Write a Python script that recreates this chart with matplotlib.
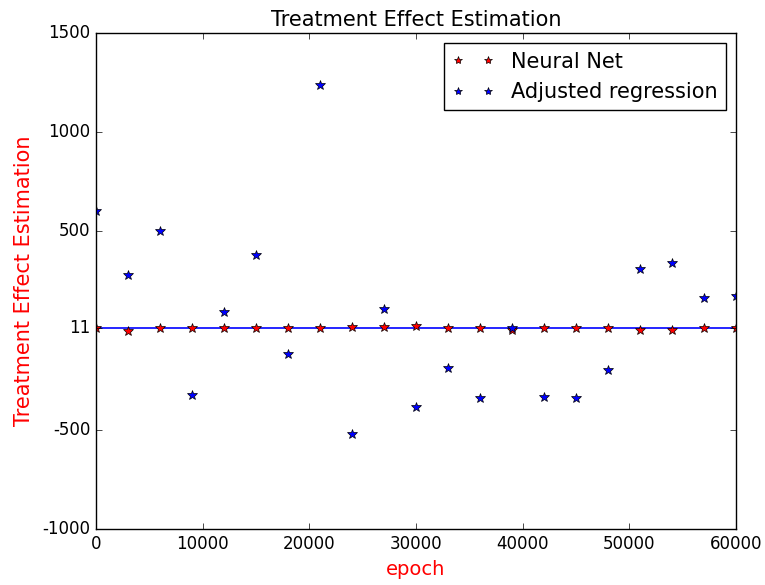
import matplotlib
matplotlib.use("Agg")
import matplotlib.pyplot as plt

epochs = [0, 3000, 6000, 9000, 12000, 15000, 18000, 21000, 24000, 27000, 30000,
          33000, 36000, 39000, 42000, 45000, 48000, 51000, 54000, 57000, 60000]
neural_net = [11, 0, 11, 11, 11, 11, 11, 11, 16, 16, 21,
              14, 11, 3, 11, 11, 11, 5, 5, 14, 11]
adjusted_regression = [603, 280, 502, -323, 94, 382, -120, 1236, -520, 111, -385,
                       -190, -338, 15, -333, -338, -200, 310, 340, 165, 175]
true_effect = 11
yticks = [-1000, -500, 11, 500, 1000, 1500]

plt.style.use('classic')
fig = plt.figure(figsize=(7.65, 5.85), dpi=100, facecolor='white')
ax = fig.add_axes([0.1255, 0.0957, 0.8365, 0.8479])

ax.plot(epochs, neural_net, '*', color='red', mec='k', mew=0.5, ms=7.5, label='Neural Net')
ax.plot(epochs, adjusted_regression, '*', color='blue', mec='k', mew=0.5, ms=7.5,
        label='Adjusted regression')
ax.axhline(true_effect, color='blue', linewidth=1.2, zorder=1)

ax.set_xlim(0, 60000)
ax.set_ylim(-1000, 1500)
ax.set_yticks(yticks)
ax.set_yticklabels([str(t) for t in yticks])
ax.set_title('Treatment Effect Estimation', fontsize=15)
ax.set_xlabel('epoch', color='red', fontsize=14)
ax.set_ylabel('Treatment Effect Estimation', color='red', fontsize=15)
ax.yaxis.labelpad = 6
ax.legend(loc='upper right', numpoints=2, fontsize=15, markerscale=0.8)

fig.savefig('out.png', dpi=100, facecolor='white')
